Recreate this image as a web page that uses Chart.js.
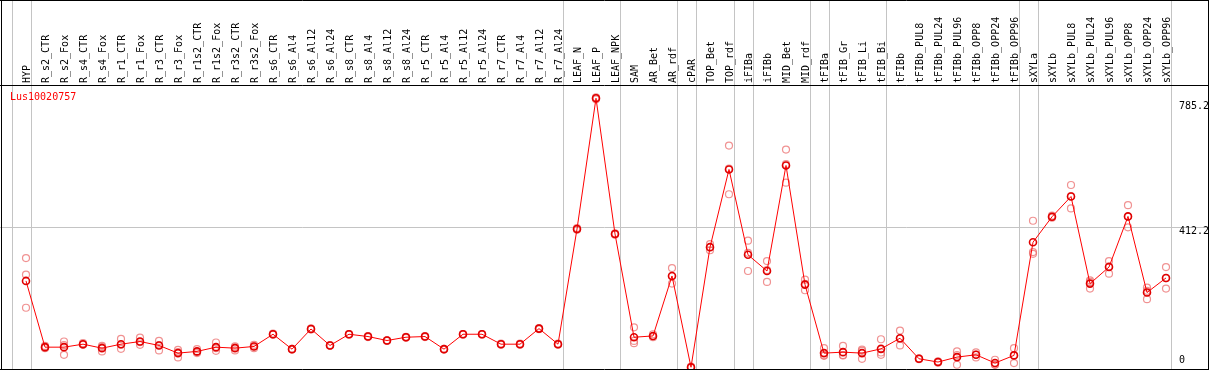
<!DOCTYPE html>
<html>
<head>
<meta charset="utf-8">
<script src="https://cdn.jsdelivr.net/npm/chart.js@4/dist/chart.umd.min.js"></script>
<style>
html,body{margin:0;padding:0;background:#fff;}
canvas{display:block;}
</style>
</head>
<body>
<canvas id="c" width="1209" height="370"></canvas>
<script>
const geneName = "Lus10020757";
const categories = ["HYP","R_s2_CTR","R_s2_Fox","R_s4_CTR","R_s4_Fox","R_r1_CTR","R_r1_Fox","R_r3_CTR","R_r3_Fox","R_r1s2_CTR","R_r1s2_Fox","R_r3s2_CTR","R_r3s2_Fox","R_s6_CTR","R_s6_Al4","R_s6_Al12","R_s6_Al24","R_s8_CTR","R_s8_Al4","R_s8_Al12","R_s8_Al24","R_r5_CTR","R_r5_Al4","R_r5_Al12","R_r5_Al24","R_r7_CTR","R_r7_Al4","R_r7_Al12","R_r7_Al24","LEAF_N","LEAF_P","LEAF_NPK","SAM","AR_Bet","AR_rdf","cPAR","TOP_Bet","TOP_rdf","iFIBa","iFIBb","MID_Bet","MID_rdf","tFIBa","tFIB_Gr","tFIB_Li","tFIB_Bi","tFIBb","tFIBb_PUL8","tFIBb_PUL24","tFIBb_PUL96","tFIBb_OPP8","tFIBb_OPP24","tFIBb_OPP96","sXYLa","sXYLb","sXYLb_PUL8","sXYLb_PUL24","sXYLb_PUL96","sXYLb_OPP8","sXYLb_OPP24","sXYLb_OPP96"];
const meanValues = [257.4,66.0,66.0,74.6,63.1,74.6,82.3,70.9,48.8,53.7,66.0,63.1,68.0,103.3,60.2,118.5,70.9,103.3,96.7,85.2,94.7,96.7,60.2,103.3,103.3,74.6,74.6,119.6,74.6,407.4,785.2,393.1,94.7,98.4,271.7,8.0,354.9,579.5,332.8,286.0,591.0,246.7,48.8,51.6,48.8,61.1,91.8,32.4,23.0,37.3,43.9,20.1,42.2,369.2,442.7,501.2,249.6,297.5,443.8,223.8,266.0];
const replicate1 = [323.3,69.7,82.3,77.5,66.0,89.8,93.8,84.1,58.2,60.2,79.5,68.0,72.6,105,61,120,72,104,98,86,96,98,61,104,104,76,76,121,76,410,788,395,123.4,103.3,294.6,10,363.7,648.4,373.8,314.7,636.9,261.1,63.1,69.7,58.6,88.9,113.9,34,25,53.7,50.8,29.6,63.1,431.2,446,534.5,259.1,314.7,476.3,238.1,297.5];
const replicate2 = [179.9,63,43.9,72.6,53.7,61.1,72.6,56.5,36.4,48.8,63.1,56.5,63.1,102,59,117,70,102,95,84,93,95,59,102,102,73,73,118,73,405,782,391,77.5,94.7,249.6,6,346,507.8,286,254.5,541.4,230.4,41,42.2,32.4,43.9,70.9,31,21,15.2,36.4,15,20.1,335.7,440,466.8,235.3,278.3,412.3,204.6,235.3];
const replicate3 = [275.4,65.3,71.8,73.7,69.6,72.9,80.5,72,51.8,52,55.4,64.8,68.3,103,60.5,118.5,71,103.5,97,85.5,95,97,60.5,104,104,74.8,74.8,119.8,74.8,407,786,393,84.1,97.2,270.9,8,354.9,582.3,338.6,288.8,594.7,248.7,42.3,43,55.4,50.5,90.6,32.2,23,43,44.5,15.7,43.4,340.7,442,502.3,254.4,299.5,442.8,228.7,265.2];
const yTickValues = [785.2, 412.2, 0];
const groupEnds = [-1,0,28,31,34,35,37,38,41,42,45,52,53,60];

const MONO = "'DejaVu Sans Mono', monospace";
const toPts = arr => arr.map((v,i)=>({x:i,y:v}));

const decor = {
  id:'decor',
  beforeDatasetsDraw(chart){
    const ctx = chart.ctx, x = chart.scales.x, y = chart.scales.y;
    ctx.save();
    ctx.strokeStyle = '#c4c4c4';
    ctx.lineWidth = 1;
    groupEnds.forEach(g=>{
      const px = Math.round(x.getPixelForValue(g+0.24)) + 0.5;
      ctx.beginPath(); ctx.moveTo(px,0); ctx.lineTo(px,369); ctx.stroke();
    });
    const py = Math.round(y.getPixelForValue(412.2)) + 0.5;
    ctx.beginPath(); ctx.moveTo(0,py); ctx.lineTo(1209,py); ctx.stroke();
    ctx.restore();
  },
  afterDraw(chart){
    const ctx = chart.ctx, y = chart.scales.y, a = chart.chartArea;
    ctx.save();
    ctx.strokeStyle = '#000';
    ctx.lineWidth = 1;
    const top = Math.round(a.top) + 0.5;
    [[0,0.5,1209,0.5],[0,top,1209,top],[0,369.5,1209,369.5],[1.5,0,1.5,370],[1208.5,0,1208.5,370]].forEach(l=>{
      ctx.beginPath(); ctx.moveTo(l[0],l[1]); ctx.lineTo(l[2],l[3]); ctx.stroke();
    });
    ctx.font = '10px ' + MONO;
    ctx.textBaseline = 'middle';
    ctx.textAlign = 'left';
    ctx.fillStyle = '#ff0000';
    ctx.fillText(geneName, 10, a.top + 12);
    ctx.fillStyle = '#000';
    const offs = [8, 4, -10];
    yTickValues.forEach((v,i)=>{
      ctx.fillText(String(v), 1179, y.getPixelForValue(v) + offs[i]);
    });
    ctx.restore();
  }
};

const repStyle = {
  showLine:false,
  pointRadius:3.5,
  pointBorderWidth:1.2,
  pointBorderColor:'rgba(235,110,110,0.75)',
  pointBackgroundColor:'rgba(0,0,0,0)',
  pointHoverRadius:3.5
};

new Chart(document.getElementById('c'), {
  type:'line',
  data:{
    datasets:[
      {label:'mean', data:toPts(meanValues), borderColor:'#ff0000', borderWidth:1,
       pointRadius:3.5, pointBorderWidth:1.6, pointBorderColor:'#e00000',
       pointBackgroundColor:'rgba(0,0,0,0)', tension:0, clip:false},
      Object.assign({label:'rep1', data:toPts(replicate1)}, repStyle),
      Object.assign({label:'rep2', data:toPts(replicate2)}, repStyle),
      Object.assign({label:'rep3', data:toPts(replicate3)}, repStyle)
    ]
  },
  options:{
    responsive:false,
    animation:false,
    devicePixelRatio:1,
    events:[],
    layout:{autoPadding:false, padding:{left:1,right:1,top:0,bottom:-2}},
    plugins:{legend:{display:false},tooltip:{enabled:false},title:{display:false}},
    scales:{
      x:{
        type:'linear', position:'top',
        min:-25/19, max:-25/19 + 1207/19,
        grid:{display:false, drawTicks:false},
        border:{display:false},
        afterBuildTicks:s=>{ s.ticks = categories.map((_,i)=>({value:i})); },
        afterFit:s=>{ s.height = 85; s.paddingLeft = 0; s.paddingRight = 0; s.paddingTop = 0; s.paddingBottom = 0; },
        ticks:{
          autoSkip:false, minRotation:90, maxRotation:90, padding:2, labelOffset:13,
          color:'#000', font:{family:MONO, size:10},
          callback:(v)=>categories[Math.round(v)] ?? ''
        }
      },
      y:{display:false, min:0, max:823.5}
    }
  },
  plugins:[decor]
});
</script>
</body>
</html>
